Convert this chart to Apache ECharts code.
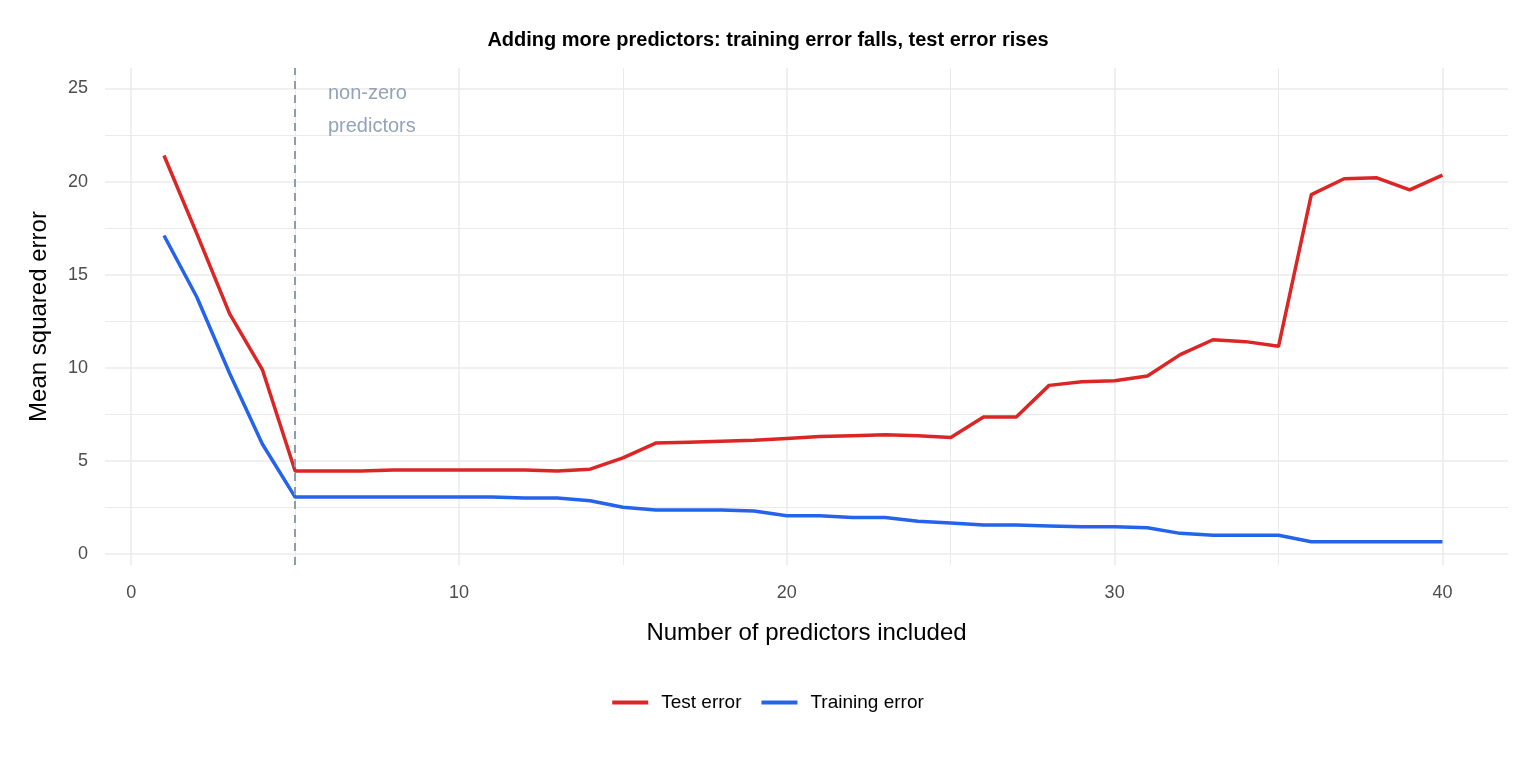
<!DOCTYPE html><html><head><meta charset="utf-8"><script src="https://cdn.jsdelivr.net/npm/echarts@6/dist/echarts.min.js"></script>
<style>body{margin:0}#c{width:1536px;height:768px}</style></head><body><div id="c"></div><script>
const predictors=[1,2,3,4,5,6,7,8,9,10,11,12,13,14,15,16,17,18,19,20,21,22,23,24,25,26,27,28,29,30,31,32,33,34,35,36,37,38,39,40];
const testError=[21.4,17.2,12.9,9.9,4.45,4.45,4.45,4.5,4.5,4.5,4.5,4.5,4.45,4.55,5.15,5.95,6.0,6.05,6.1,6.2,6.3,6.35,6.4,6.35,6.25,7.35,7.35,9.05,9.25,9.3,9.55,10.7,11.5,11.4,11.15,19.3,20.15,20.2,19.55,20.35];
const trainError=[17.1,13.8,9.7,5.9,3.05,3.05,3.05,3.05,3.05,3.05,3.05,3.0,3.0,2.85,2.5,2.35,2.35,2.35,2.3,2.05,2.05,1.95,1.95,1.75,1.65,1.55,1.55,1.5,1.45,1.45,1.4,1.1,1.0,1.0,1.0,0.65,0.65,0.65,0.65,0.65];
const xTicks=[0,10,20,30,40], xMinor=[5,15,25,35];
const yTicks=[0,5,10,15,20,25], yMinor=[2.5,7.5,12.5,17.5,22.5];
const cutoff=5;
const ch=echarts.init(document.getElementById('c'));
const grey='#4d4d4d', font='Liberation Sans';
const axX=(vals,main)=>({type:'value',min:-0.8,max:42,gridIndex:0,axisLine:{show:false},axisTick:{show:false,customValues:vals},
 axisLabel:{show:main,customValues:vals,color:grey,fontSize:18,fontFamily:font,margin:19},
 splitLine:{show:true,lineStyle:{color:'#ebebeb',width:main?1.5:1}},
 name:main?'Number of predictors included':'',nameLocation:'middle',nameGap:56,nameTextStyle:{fontSize:24,color:'#000',fontFamily:font}});
const axY=(vals,main)=>({type:'value',min:-0.6,max:26.1,axisLine:{show:false},axisTick:{show:false,customValues:vals},
 axisLabel:{show:main,customValues:vals,color:grey,fontSize:18,fontFamily:font,margin:17},
 splitLine:{show:true,lineStyle:{color:'#ebebeb',width:main?1.5:1}},
 name:main?'Mean squared error':'',nameLocation:'middle',nameGap:54,nameTextStyle:{fontSize:24,color:'#000',fontFamily:font}});
ch.setOption({animation:false,
 title:{text:'Adding more predictors: training error falls, test error rises',left:'center',top:25,textStyle:{fontSize:20,fontWeight:'bold',color:'#000',fontFamily:font}},
 grid:{left:105,right:28,top:68,bottom:203},
 legend:{bottom:51,left:'center',itemWidth:36,itemHeight:4,itemGap:20,icon:'rect',textStyle:{fontSize:19,color:'#000',fontFamily:font,padding:[0,0,0,8]},data:['Test error','Training error']},
 xAxis:[axX(xTicks,true),axX(xMinor,false)],
 yAxis:[axY(yTicks,true),axY(yMinor,false)],
 series:[
  {name:'Test error',type:'line',data:predictors.map((p,i)=>[p,testError[i]]),showSymbol:false,lineStyle:{color:'#dc2626',width:3.5},itemStyle:{color:'#dc2626'},
   markLine:{symbol:'none',silent:true,label:{show:false},lineStyle:{type:[8,6],color:'#8e9cb3',width:2},data:[{xAxis:cutoff}]}},
  {name:'Training error',type:'line',data:predictors.map((p,i)=>[p,trainError[i]]),showSymbol:false,lineStyle:{color:'#2563eb',width:3.5},itemStyle:{color:'#2563eb'}}
 ]});
const pos=ch.convertToPixel({gridIndex:0},[cutoff+1,25.6]);
ch.setOption({graphic:[{type:'text',x:pos[0],y:pos[1],style:{text:'non-zero\npredictors',fill:'#94a3b8',fontSize:20,fontFamily:font,lineHeight:33,textVerticalAlign:'top'}}]});
</script></body></html>
